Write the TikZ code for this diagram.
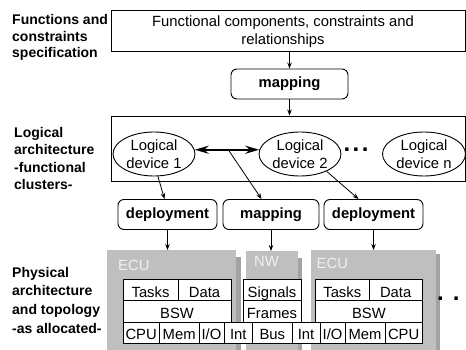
\documentclass[tikz,border=0pt]{standalone}
\usepackage{fontspec}
\setmainfont{Liberation Sans}
\usetikzlibrary{shapes.geometric,arrows.meta,calc}
\newcommand\iotext{I/O}
\begin{document}
\begin{tikzpicture}[x=1pt,y=-1pt,
  every node/.style={inner sep=0pt},
  txt/.style={font=\fontsize{14.8}{18}\selectfont},
  lbl/.style={font=\fontsize{14}{17}\selectfont\bfseries, anchor=base west},
  frame/.style={draw, line width=0.9pt},
  rbox/.style={draw, line width=0.9pt, rounded corners=6pt, minimum height=30pt,
    font=\fontsize{14.8}{17}\selectfont\bfseries},
  ld/.style={ellipse, draw, line width=0.9pt, minimum width=82pt, minimum height=44pt,
    align=center, font=\fontsize{14.8}{17.5}\selectfont},
  arr/.style={-{Stealth[length=6pt,width=4.5pt]}, line width=0.8pt},
  dblarr/.style={{Stealth[length=14pt,width=8pt]}-{Stealth[length=14pt,width=8pt]}, line width=2.2pt},
  graybox/.style={fill=black!25, anchor=north west},
  shadowc/.style={fill=black!36},
  hwlabel/.style={font=\fontsize{14.8}{17}\selectfont, text=black!6, anchor=base west},
  cellline/.style={draw, line width=0.9pt, fill=white},
  dots/.style={font=\fontsize{24}{24}\selectfont\bfseries}
]
\useasboundingbox (0,0) rectangle (466,350);

% left labels
\node[lbl] (l1a) at (12,25) {Functions and};
\node[lbl] (l1b) at (12,41.5) {constraints};
\node[lbl] (l1c) at (12,58) {specification};
\node[lbl] (l2a) at (14,137.5) {Logical};
\node[lbl] (l2b) at (14,155) {architecture};
\node[lbl] (l2c) at (14,172.5) {-functional};
\node[lbl] (l2d) at (14,189.5) {clusters-};
\node[lbl] (l3a) at (12,277) {Physical};
\node[lbl] (l3b) at (12,295.5) {architecture};
\node[lbl] (l3c) at (12,314.5) {and topology};
\node[lbl] (l3d) at (12,333.5) {-as allocated-};

% specification box
\node[frame, minimum width=354.5pt, minimum height=41pt] (spec) at (288.25,30.5) {};
\node[txt, align=center] (spectext) at (283,32) {Functional components, constraints and\\relationships};

\node[rbox, minimum width=117pt] (map1) at (289.5,84) {mapping};
\draw[arr] (map1.north |- spec.south) -- (map1.north);

% logical box
\node[frame, minimum width=354.5pt, minimum height=65pt] (lbox) at (288.25,148.5) {};
\draw[arr] (map1.south) -- (map1.south |- lbox.north);

\node[ld] (ld1) at (154,154) {Logical\\device 1};
\node[ld] (ld2) at (300,154) {Logical\\device 2};
\node[ld, minimum width=83pt] (ldn) at (424,154) {Logical\\device n};
\node[dots] (dd) at (356,150) {.\hspace{2.5pt}.\hspace{2.5pt}.};

\draw[dblarr] (ld1.6) -- coordinate[pos=0.52] (mid) (ld2.174);

% second row of boxes
\node[rbox, minimum width=99pt] (dep1) at (167.5,214.5) {deployment};
\node[rbox, minimum width=96pt] (map2) at (271,214.5) {mapping};
\node[rbox, minimum width=99pt] (dep2) at (373.5,214.5) {deployment};

\draw[arr] (mid) -- ($(map2.north west)+(39,0)$);
\draw[arr] (ld1.-80) -- ($(dep1.north)+(-3,0)$);
\draw[arr] (ld2.-33) -- ($(dep2.north)+(-15,0)$);

% gray hardware boxes
\fill[shadowc] (236,257) rectangle (241,350);
\node[graybox, minimum width=129pt, minimum height=100pt] (ecu1) at (107,250) {};
\fill[shadowc] (298,258) rectangle (302,350);
\node[graybox, minimum width=52pt, minimum height=99pt] (nw) at (246,251) {};
\fill[shadowc] (436,254) rectangle (440,350);
\node[graybox, minimum width=125pt, minimum height=100pt] (ecu2) at (311,250) {};

\node[hwlabel] (ecu1l) at (118,270) {ECU};
\node[hwlabel] (nwl) at (254,266) {NW};
\node[hwlabel] (ecu2l) at (316.5,268.5) {ECU};

\draw[arr] (dep1.south) -- (dep1.south |- ecu1.north);
\draw[arr] (map2.south) -- (map2.south |- nw.north);
\draw[arr] (dep2.south) -- (dep2.south |- ecu2.north);

% cells
\foreach \nm/\xa/\xb/\ya/\yb/\t in {
  taA/123/178/279.5/300.8/Tasks, daA/178/231/279.5/300.8/Data,
  bsA/123/231/300.8/322/BSW,
  sig/243/301/279.5/300.8/Signals, fra/243/301/300.8/322/Frames,
  taB/315.5/369/279.5/300.8/Tasks, daB/369/422.3/279.5/300.8/Data,
  bsB/315.5/422.3/300.8/322/BSW,
  cpA/123/159.3/322/343.5/CPU, meA/159.3/199/322/343.5/Mem,
  ioA/199/224/322/343.5/\iotext, inA/224/252.5/322/343.5/Int,
  bus/252.5/292/322/343.5/Bus, inB/292/320/322/343.5/Int,
  ioB/320/345/322/343.5/\iotext, meB/345/385/322/343.5/Mem,
  cpB/385/422.3/322/343.5/CPU}
{
  \draw[cellline] (\xa,\ya) rectangle (\xb,\yb);
  \node[txt, anchor=base] (\nm) at ({(\xa+\xb)/2},{\yb-3.6}) {\t};
}

\node[dots, anchor=west] (rd) at (437,299) {.\hspace{9pt}.};
\end{tikzpicture}
\end{document}
